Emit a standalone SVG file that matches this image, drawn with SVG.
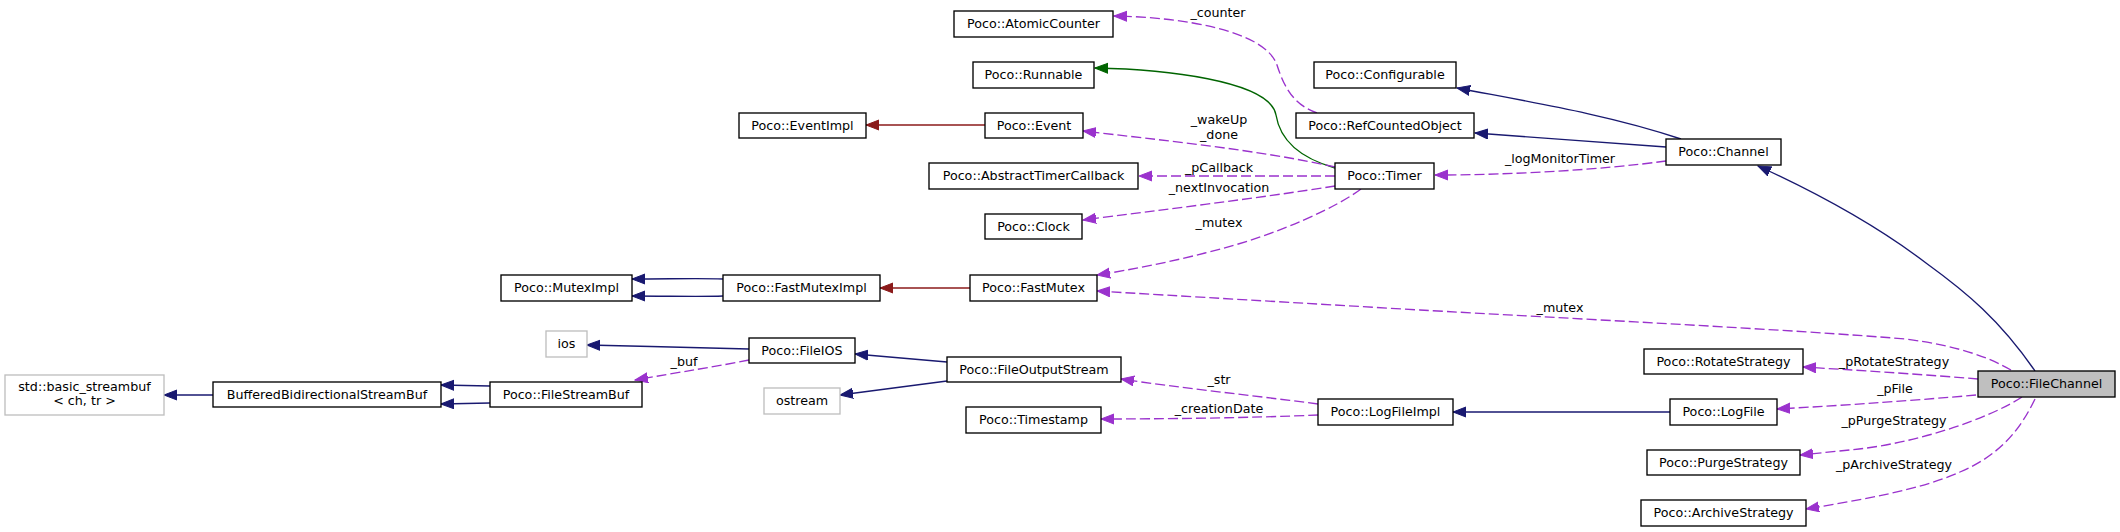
<svg xmlns="http://www.w3.org/2000/svg" width="2120" height="532" viewBox="0 0 2120 532">
<style>
.n rect{fill:#fff;stroke:#000;stroke-width:1.35}
.g rect{fill:#fff;stroke:#bfbfbf;stroke-width:1.35}
.cur rect{fill:#bfbfbf;stroke:#000;stroke-width:1.35}
text{font-family:"DejaVu Sans",sans-serif;font-size:12.7px;fill:#000;text-anchor:middle}
.e path{fill:none;stroke-width:1.35}
.inh{stroke:#191970}
.priv{stroke:#8b1a1a}
.prot{stroke:#006400}
.dep{stroke:#9a32cd;stroke-dasharray:10,4}
</style>
<defs>
<marker id="mI" markerUnits="userSpaceOnUse" markerWidth="14" markerHeight="12" refX="13" refY="5.5" orient="auto"><path d="M0,0.5 L13,5.5 L0,10.5 z" fill="#191970" stroke="#191970" stroke-width="1"/></marker>
<marker id="mP" markerUnits="userSpaceOnUse" markerWidth="14" markerHeight="12" refX="13" refY="5.5" orient="auto"><path d="M0,0.5 L13,5.5 L0,10.5 z" fill="#8b1a1a" stroke="#8b1a1a" stroke-width="1"/></marker>
<marker id="mG" markerUnits="userSpaceOnUse" markerWidth="14" markerHeight="12" refX="13" refY="5.5" orient="auto"><path d="M0,0.5 L13,5.5 L0,10.5 z" fill="#006400" stroke="#006400" stroke-width="1"/></marker>
<marker id="mD" markerUnits="userSpaceOnUse" markerWidth="14" markerHeight="12" refX="13" refY="5.5" orient="auto"><path d="M0,0.5 L13,5.5 L0,10.5 z" fill="#9a32cd" stroke="#9a32cd" stroke-width="1"/></marker>
</defs>
<rect x="0" y="0" width="2120" height="532" fill="#fff"/>
<g id="edges" class="e">
<path class="inh" marker-end="url(#mI)" d="M2035,371 C2000,320 1966,292 1926,263 C1872,222 1815,192 1758,166"/>
<path class="inh" marker-end="url(#mI)" d="M1681,139 C1610,115 1530,102 1457,88"/>
<path class="inh" marker-end="url(#mI)" d="M1666,147 C1600,142 1540,138 1475,133"/>
<path class="dep" marker-end="url(#mD)" d="M1666,161 C1600,170 1510,175 1435,175"/>
<path class="prot" marker-end="url(#mG)" d="M1335,168 C1300,158 1280,140 1276,115 C1270,80 1160,69 1095,68"/>
<path class="dep" marker-end="url(#mD)" d="M1317,113 C1295,105 1285,90 1277,65 C1265,30 1180,17 1114,16"/>
<path class="dep" marker-end="url(#mD)" d="M1335,167 C1260,150 1160,140 1083,131"/>
<path class="inh" marker-end="url(#mI)" d="M723,279 C700,278 670,279 632,279"/>
<path class="inh" marker-end="url(#mI)" d="M723,296 C700,297 670,296 632,296"/>
<path class="priv" marker-end="url(#mP)" d="M970,288 L880,288"/>
<path class="priv" marker-end="url(#mP)" d="M985,125 L866,125"/>
<path class="dep" marker-end="url(#mD)" d="M1335,176 L1139,176"/>
<path class="dep" marker-end="url(#mD)" d="M1335,186 C1260,198 1160,210 1083,220"/>
<path class="dep" marker-end="url(#mD)" d="M1361,189 C1340,205 1280,235 1205,253 C1170,262 1130,270 1097,275"/>
<path class="dep" marker-end="url(#mD)" d="M2011,370 C1990,358 1960,346 1905,339 C1800,330 1560,318 1420,310 C1300,303 1180,296 1097,291"/>
<path class="inh" marker-end="url(#mI)" d="M490,386 L441,385"/>
<path class="inh" marker-end="url(#mI)" d="M490,403 L441,404"/>
<path class="inh" marker-end="url(#mI)" d="M213,395 L164,395"/>
<path class="inh" marker-end="url(#mI)" d="M749,349 C700,348 640,346 587,345"/>
<path class="dep" marker-end="url(#mD)" d="M749,360 C720,366 680,372 635,380"/>
<path class="inh" marker-end="url(#mI)" d="M947,362 L855,354"/>
<path class="inh" marker-end="url(#mI)" d="M947,381 L840,395"/>
<path class="dep" marker-end="url(#mD)" d="M1318,404 C1250,395 1180,388 1121,379"/>
<path class="dep" marker-end="url(#mD)" d="M1318,415 C1250,418 1160,419 1101,419"/>
<path class="inh" marker-end="url(#mI)" d="M1670,412 L1453,412"/>
<path class="dep" marker-end="url(#mD)" d="M1978,379 C1930,375 1870,371 1803,367"/>
<path class="dep" marker-end="url(#mD)" d="M1976,395 C1920,400 1850,405 1777,409"/>
<path class="dep" marker-end="url(#mD)" d="M2022,397 C1990,418 1920,442 1859,449 C1840,451 1820,453 1800,455"/>
<path class="dep" marker-end="url(#mD)" d="M2035,399 C2020,430 2000,455 1960,472 C1920,490 1860,500 1806,509"/>
<text x="1560" y="163">_logMonitorTimer</text>
<text x="1218" y="17">_counter</text>
<text x="1219" y="124">_wakeUp</text>
<text x="1219" y="139">_done</text>
<text x="1219" y="172">_pCallback</text>
<text x="1219" y="192">_nextInvocation</text>
<text x="1219" y="227">_mutex</text>
<text x="1560" y="312">_mutex</text>
<text x="684" y="366">_buf</text>
<text x="1219" y="384">_str</text>
<text x="1219" y="413">_creationDate</text>
<text x="1894" y="366">_pRotateStrategy</text>
<text x="1895" y="393">_pFile</text>
<text x="1894" y="425">_pPurgeStrategy</text>
<text x="1894" y="469">_pArchiveStrategy</text>
</g>
<g id="AtomicCounter" class="n"><rect x="954" y="11" width="159" height="26"/><text x="1033.5" y="28">Poco::AtomicCounter</text></g>
<g id="Runnable" class="n"><rect x="973" y="62" width="121" height="26"/><text x="1033.5" y="79">Poco::Runnable</text></g>
<g id="Configurable" class="n"><rect x="1314" y="62" width="142" height="26"/><text x="1385" y="79">Poco::Configurable</text></g>
<g id="EventImpl" class="n"><rect x="739" y="113" width="127" height="25"/><text x="802.5" y="130">Poco::EventImpl</text></g>
<g id="Event" class="n"><rect x="985" y="113" width="98" height="25"/><text x="1034" y="130">Poco::Event</text></g>
<g id="RefCountedObject" class="n"><rect x="1296" y="113" width="178" height="25"/><text x="1385" y="130">Poco::RefCountedObject</text></g>
<g id="AbstractTimerCallback" class="n"><rect x="929" y="163" width="209" height="26"/><text x="1033.5" y="180">Poco::AbstractTimerCallback</text></g>
<g id="Timer" class="n"><rect x="1335" y="163" width="99" height="26"/><text x="1384.5" y="180">Poco::Timer</text></g>
<g id="Clock" class="n"><rect x="985" y="214" width="97" height="25"/><text x="1033.5" y="231">Poco::Clock</text></g>
<g id="Channel" class="n"><rect x="1666" y="139" width="115" height="26"/><text x="1723.5" y="156">Poco::Channel</text></g>
<g id="MutexImpl" class="n"><rect x="501" y="275" width="131" height="26"/><text x="566.5" y="292">Poco::MutexImpl</text></g>
<g id="FastMutexImpl" class="n"><rect x="723" y="275" width="157" height="26"/><text x="801.5" y="292">Poco::FastMutexImpl</text></g>
<g id="FastMutex" class="n"><rect x="970" y="275" width="127" height="26"/><text x="1033.5" y="292">Poco::FastMutex</text></g>
<g id="ios" class="g"><rect x="546" y="331" width="41" height="26"/><text x="566.5" y="348">ios</text></g>
<g id="FileIOS" class="n"><rect x="749" y="338" width="106" height="25"/><text x="802" y="355">Poco::FileIOS</text></g>
<g id="basic_streambuf" class="g"><rect x="5" y="375" width="159" height="40"/><text x="84.5" y="391">std::basic_streambuf</text><text x="84.5" y="405">&lt; ch, tr &gt;</text></g>
<g id="BufferedBidirectionalStreamBuf" class="n"><rect x="213" y="382" width="228" height="25"/><text x="327" y="399">BufferedBidirectionalStreamBuf</text></g>
<g id="FileStreamBuf" class="n"><rect x="490" y="382" width="152" height="25"/><text x="566" y="399">Poco::FileStreamBuf</text></g>
<g id="FileOutputStream" class="n"><rect x="947" y="357" width="174" height="25"/><text x="1034" y="374">Poco::FileOutputStream</text></g>
<g id="ostream" class="g"><rect x="764" y="388" width="76" height="26"/><text x="802" y="405">ostream</text></g>
<g id="Timestamp" class="n"><rect x="966" y="407" width="135" height="26"/><text x="1033.5" y="424">Poco::Timestamp</text></g>
<g id="LogFileImpl" class="n"><rect x="1318" y="399" width="135" height="26"/><text x="1385.5" y="416">Poco::LogFileImpl</text></g>
<g id="RotateStrategy" class="n"><rect x="1644" y="349" width="159" height="25"/><text x="1723.5" y="366">Poco::RotateStrategy</text></g>
<g id="FileChannel" class="cur"><rect x="1978" y="371" width="137" height="26"/><text x="2046.5" y="388">Poco::FileChannel</text></g>
<g id="LogFile" class="n"><rect x="1670" y="399" width="107" height="26"/><text x="1723.5" y="416">Poco::LogFile</text></g>
<g id="PurgeStrategy" class="n"><rect x="1647" y="450" width="153" height="25"/><text x="1723.5" y="467">Poco::PurgeStrategy</text></g>
<g id="ArchiveStrategy" class="n"><rect x="1641" y="500" width="165" height="26"/><text x="1723.5" y="517">Poco::ArchiveStrategy</text></g>
</svg>
